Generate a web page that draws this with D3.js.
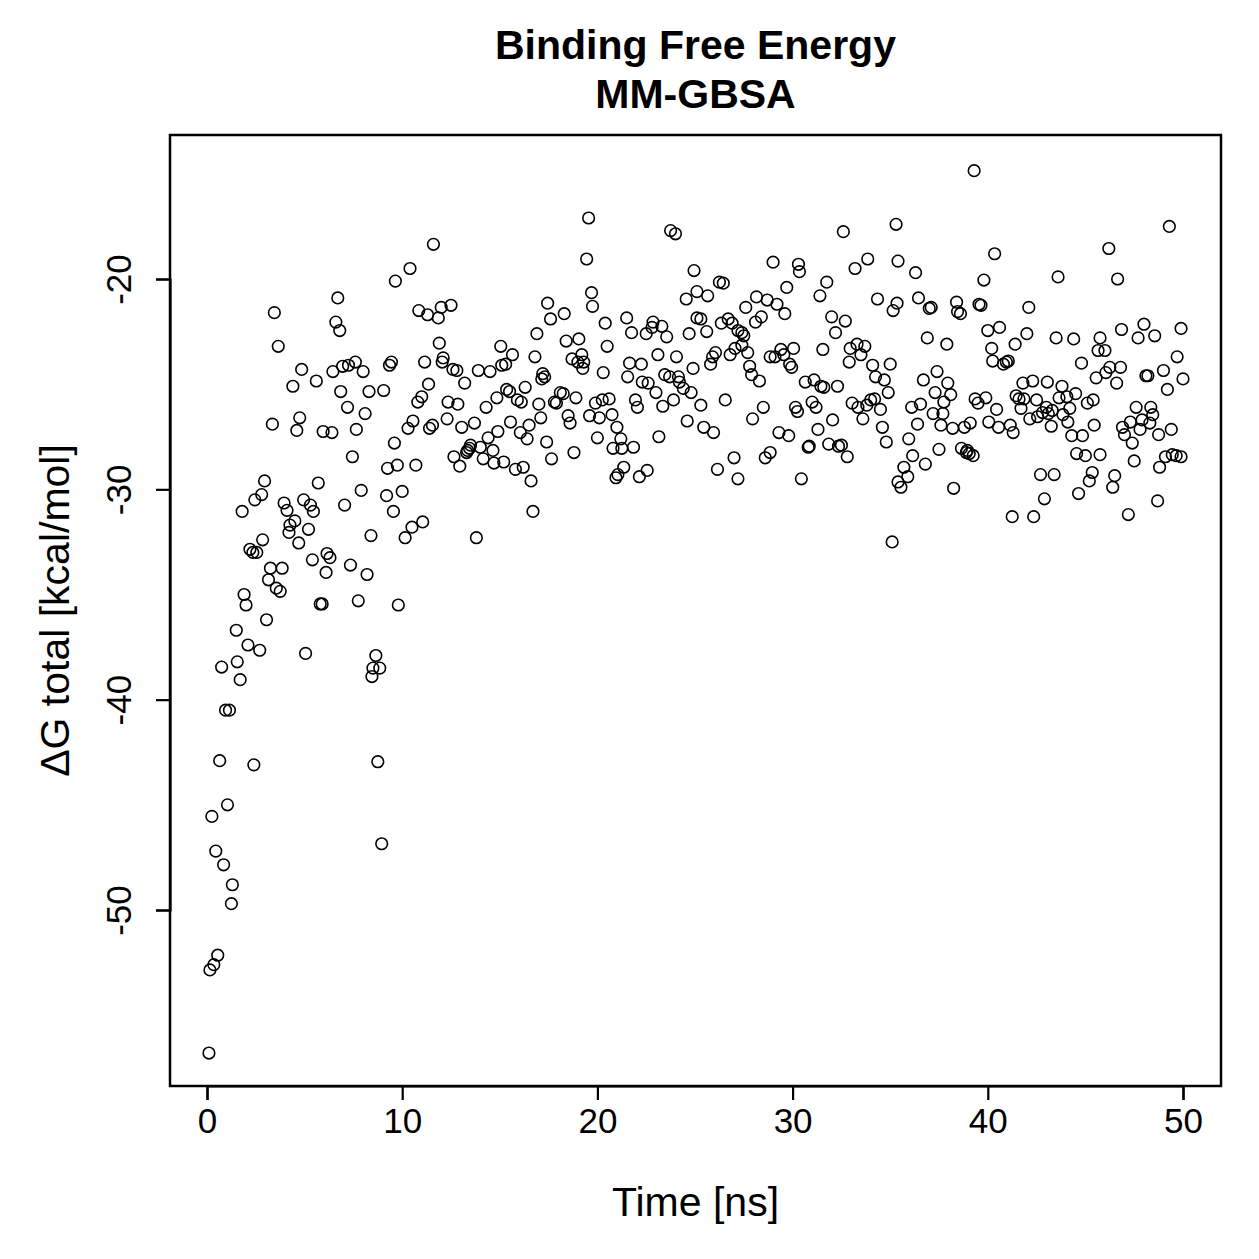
<!DOCTYPE html>
<html><head><meta charset="utf-8">
<script src="https://cdn.jsdelivr.net/npm/d3@7"></script>
<style>body{margin:0;background:#fff}svg{display:block}</style>
</head><body>
<script>
const titleLines = ["Binding Free Energy", "MM-GBSA"];
const xLabel = "Time [ns]";
const yLabel = "\u0394G total [kcal/mol]";
const xTicks = [0, 10, 20, 30, 40, 50];
const yTicks = [-20, -30, -40, -50];

// [time (ns), ΔG total (kcal/mol)]
const block00 = [[0.1,-56.8],[0.15,-52.85],[0.25,-45.55],[0.35,-52.6],[0.45,-47.2],[0.55,-52.15],[0.65,-42.9],[0.75,-38.45],[0.85,-47.85],[0.95,-40.5],[1.05,-45.0],[1.15,-40.5],[1.25,-49.7],[1.3,-48.8],[1.5,-36.7],[1.55,-38.2],[1.7,-39.05],[1.8,-31.05],[1.9,-35.0],[2.0,-35.5],[2.1,-37.4],[2.2,-32.85],[2.35,-33.0],[2.4,-43.1],[2.45,-30.5],[2.55,-33.0],[2.7,-37.65],[2.8,-30.25],[2.85,-32.4],[2.95,-29.6],[3.05,-36.2],[3.15,-34.3],[3.25,-33.75],[3.35,-26.9],[3.45,-21.6],[3.55,-34.7],[3.65,-23.2],[3.75,-34.85],[3.85,-33.75],[3.95,-30.65],[4.1,-31.0],[4.2,-32.05],[4.25,-31.7],[4.4,-25.1],[4.5,-31.5],[4.6,-27.2],[4.7,-32.55],[4.75,-26.6],[4.85,-24.3],[4.95,-30.5],[5.05,-37.8]];
const block05 = [[5.2,-31.9],[5.3,-30.75],[5.4,-33.35],[5.45,-31.05],[5.6,-24.85],[5.7,-29.7],[5.8,-35.45],[5.9,-35.45],[5.95,-27.25],[6.1,-33.95],[6.15,-33.05],[6.3,-33.25],[6.4,-27.3],[6.45,-24.4],[6.6,-22.05],[6.7,-20.9],[6.8,-22.45],[6.85,-25.35],[6.95,-24.15],[7.05,-30.75],[7.2,-26.1],[7.25,-24.1],[7.35,-33.6],[7.45,-28.45],[7.6,-23.95],[7.65,-27.15],[7.75,-35.3],[7.9,-30.05],[8.0,-24.4],[8.1,-26.4],[8.2,-34.05],[8.3,-25.35],[8.4,-32.2],[8.45,-38.9],[8.5,-38.5],[8.65,-37.9],[8.75,-42.95],[8.85,-38.5],[8.95,-46.85],[9.05,-25.3],[9.2,-30.3],[9.25,-29.0],[9.35,-24.1],[9.45,-23.95],[9.55,-31.05],[9.6,-27.8],[9.65,-20.1],[9.75,-28.85],[9.8,-35.5]];
const block10 = [[10.0,-30.1],[10.15,-32.3],[10.3,-27.1],[10.4,-19.5],[10.5,-31.8],[10.55,-26.75],[10.7,-28.85],[10.8,-25.85],[10.85,-21.5],[11.0,-25.6],[11.05,-31.55],[11.15,-23.95],[11.3,-21.7],[11.35,-25.0],[11.4,-27.1],[11.55,-26.95],[11.6,-18.35],[11.85,-21.85],[11.9,-23.05],[12.0,-21.35],[12.05,-23.95],[12.1,-23.75],[12.3,-26.65],[12.35,-25.85],[12.5,-21.25],[12.6,-24.3],[12.65,-28.45],[12.8,-24.35],[12.85,-25.95],[12.95,-28.9],[13.05,-27.05],[13.2,-24.95],[13.3,-28.25],[13.35,-28.15],[13.45,-28.05],[13.5,-27.9],[13.7,-26.85],[13.8,-32.3],[13.9,-24.35],[14.0,-28.0],[14.15,-28.55],[14.3,-26.1],[14.4,-27.55],[14.5,-24.4],[14.65,-28.15],[14.7,-28.75],[14.85,-25.65],[14.9,-27.25],[15.05,-23.2],[15.1,-24.1]];
const block15 = [[15.2,-28.7],[15.3,-24.05],[15.35,-25.25],[15.5,-25.35],[15.55,-26.8],[15.65,-23.6],[15.8,-29.05],[15.9,-25.75],[16.05,-27.3],[16.1,-25.85],[16.2,-28.95],[16.3,-25.15],[16.4,-27.6],[16.5,-26.95],[16.6,-29.6],[16.7,-31.05],[16.8,-23.7],[16.9,-22.6],[17.0,-25.95],[17.1,-26.6],[17.15,-24.75],[17.2,-24.5],[17.3,-24.65],[17.4,-27.75],[17.45,-21.15],[17.6,-21.9],[17.65,-28.55],[17.8,-25.85],[17.9,-25.9],[18.1,-25.4],[18.25,-25.45],[18.3,-21.65],[18.4,-22.95],[18.5,-26.5],[18.6,-26.85],[18.7,-23.8],[18.8,-28.25],[18.9,-25.65],[19.0,-23.95],[19.05,-22.85],[19.2,-23.6],[19.25,-24.25],[19.3,-23.95],[19.45,-19.05],[19.55,-17.1],[19.6,-26.5],[19.7,-20.65],[19.75,-21.3],[19.9,-25.9],[20.0,-27.55]];
const block20 = [[20.1,-26.6],[20.25,-25.75],[20.3,-24.45],[20.4,-22.1],[20.5,-23.2],[20.6,-25.7],[20.75,-26.45],[20.8,-28.05],[20.95,-29.45],[21.0,-27.05],[21.05,-29.3],[21.2,-27.6],[21.25,-28.05],[21.35,-28.95],[21.5,-21.85],[21.55,-24.65],[21.65,-24.0],[21.75,-22.55],[21.85,-28.0],[21.95,-25.75],[22.05,-26.1],[22.15,-29.4],[22.25,-24.05],[22.3,-24.9],[22.5,-22.6],[22.55,-29.1],[22.6,-24.95],[22.8,-22.3],[22.85,-22.05],[23.0,-25.4],[23.1,-23.6],[23.15,-27.5],[23.3,-22.25],[23.35,-26.05],[23.45,-24.55],[23.55,-22.75],[23.7,-24.65],[23.75,-17.7],[23.9,-25.75],[24.0,-17.85],[24.05,-23.7],[24.15,-24.65],[24.2,-24.9],[24.4,-25.2],[24.55,-20.95],[24.6,-26.75],[24.7,-22.6],[24.8,-25.4],[24.9,-24.25],[24.95,-19.6]];
const block25 = [[25.1,-20.6],[25.1,-21.85],[25.3,-21.9],[25.3,-26.0],[25.45,-27.05],[25.6,-22.5],[25.65,-20.8],[25.8,-24.05],[25.9,-23.7],[25.95,-27.3],[26.05,-23.5],[26.15,-29.05],[26.25,-20.15],[26.35,-22.1],[26.45,-20.2],[26.55,-25.75],[26.7,-21.9],[26.8,-23.6],[26.9,-22.1],[27.0,-28.5],[27.05,-23.3],[27.2,-22.45],[27.2,-29.5],[27.4,-22.55],[27.4,-23.15],[27.5,-22.7],[27.6,-21.35],[27.7,-23.5],[27.8,-24.15],[27.9,-24.55],[27.95,-26.65],[28.1,-22.05],[28.15,-20.85],[28.3,-24.85],[28.4,-21.8],[28.5,-26.1],[28.6,-28.5],[28.7,-21.0],[28.85,-28.25],[28.85,-23.7],[29.0,-19.2],[29.1,-23.7],[29.2,-21.2],[29.3,-27.3],[29.4,-23.35],[29.55,-23.6],[29.6,-21.65],[29.7,-20.4],[29.8,-27.45],[29.85,-24.05],[29.95,-24.2]];
const block30 = [[30.05,-23.3],[30.15,-26.1],[30.25,-26.3],[30.3,-19.3],[30.35,-19.65],[30.45,-29.5],[30.65,-24.9],[30.8,-28.0],[30.85,-27.95],[31.0,-25.85],[31.1,-24.8],[31.2,-26.1],[31.3,-27.15],[31.4,-20.8],[31.45,-25.1],[31.55,-23.35],[31.6,-25.15],[31.75,-20.15],[31.85,-27.85],[32.0,-21.8],[32.05,-26.7],[32.2,-22.55],[32.3,-25.1],[32.35,-27.95],[32.5,-27.9],[32.6,-17.75],[32.7,-22.0],[32.8,-28.45],[32.9,-23.95],[32.95,-23.3],[33.05,-25.9],[33.2,-19.5],[33.3,-23.1],[33.35,-26.1],[33.5,-23.6],[33.6,-26.65],[33.7,-23.2],[33.8,-26.0],[33.85,-19.05],[34.0,-25.75],[34.1,-24.1],[34.2,-25.7],[34.25,-24.65],[34.35,-20.95],[34.5,-26.2],[34.6,-27.05],[34.7,-24.8],[34.8,-27.75],[34.9,-25.4],[35.0,-24.05]];
const block35 = [[35.1,-32.5],[35.15,-21.5],[35.3,-17.4],[35.35,-21.15],[35.4,-19.15],[35.4,-29.65],[35.55,-29.9],[35.7,-28.95],[35.9,-29.4],[35.95,-27.6],[36.1,-26.1],[36.15,-28.4],[36.3,-19.7],[36.4,-26.9],[36.45,-20.9],[36.55,-25.95],[36.7,-24.8],[36.8,-28.8],[36.9,-22.8],[37.0,-21.4],[37.1,-21.35],[37.2,-26.4],[37.3,-25.4],[37.4,-24.4],[37.5,-28.1],[37.6,-26.95],[37.7,-26.4],[37.75,-25.85],[37.9,-23.1],[37.95,-24.95],[38.1,-25.5],[38.2,-27.1],[38.25,-29.95],[38.4,-21.1],[38.45,-21.55],[38.6,-21.65],[38.65,-28.05],[38.8,-27.05],[38.9,-28.25],[38.95,-28.15],[39.05,-28.3],[39.1,-26.85],[39.25,-28.4],[39.3,-14.85],[39.35,-25.7],[39.5,-25.9],[39.55,-21.2],[39.65,-21.25],[39.8,-20.05],[39.9,-25.65]];
const block40 = [[40.0,-22.45],[40.05,-26.8],[40.2,-23.3],[40.25,-23.9],[40.35,-18.8],[40.45,-26.2],[40.55,-27.05],[40.6,-22.3],[40.8,-24.05],[40.95,-23.95],[41.05,-23.9],[41.15,-26.95],[41.25,-31.3],[41.3,-27.3],[41.4,-23.1],[41.45,-25.55],[41.6,-25.7],[41.7,-26.15],[41.8,-24.95],[41.85,-25.7],[42.0,-22.6],[42.1,-21.35],[42.15,-26.65],[42.3,-24.85],[42.35,-31.3],[42.5,-25.75],[42.55,-26.55],[42.7,-29.3],[42.8,-26.35],[42.9,-30.45],[43.0,-26.1],[43.05,-24.9],[43.1,-26.4],[43.25,-27.0],[43.3,-26.25],[43.4,-29.3],[43.5,-22.8],[43.6,-19.9],[43.65,-25.65],[43.8,-25.1],[43.85,-26.45],[44.05,-25.6],[44.1,-26.8],[44.2,-26.15],[44.3,-27.45],[44.4,-22.85],[44.5,-25.45],[44.55,-28.3],[44.65,-30.2],[44.8,-24.0],[44.85,-27.45],[45.0,-28.4]];
const block45 = [[45.1,-25.9],[45.2,-29.6],[45.35,-29.2],[45.4,-25.75],[45.45,-26.95],[45.55,-24.7],[45.65,-23.4],[45.75,-22.8],[45.75,-28.35],[46.0,-23.4],[46.05,-24.45],[46.2,-18.55],[46.25,-24.2],[46.4,-29.9],[46.5,-29.35],[46.6,-24.95],[46.65,-20.0],[46.8,-24.2],[46.85,-22.4],[46.9,-27.05],[47.0,-27.4],[47.2,-31.2],[47.3,-26.8],[47.4,-27.8],[47.5,-28.65],[47.6,-26.1],[47.7,-22.8],[47.8,-27.15],[47.9,-26.7],[48.0,-22.15],[48.1,-24.6],[48.2,-24.6],[48.3,-26.85],[48.35,-26.1],[48.45,-26.45],[48.55,-22.7],[48.7,-30.55],[48.75,-27.4],[48.8,-28.95],[49.0,-24.35],[49.1,-28.45],[49.2,-25.25],[49.3,-17.5],[49.4,-27.15],[49.45,-28.35],[49.65,-28.4],[49.7,-23.7],[49.9,-28.45],[49.9,-22.35],[50.0,-24.75]];

const points = [].concat(block00, block05, block10, block15, block20, block25, block30, block35, block40, block45);

const W = 1259, H = 1259;
const box = {left: 170, right: 1221, top: 135, bottom: 1086};
const font = "'Liberation Sans', Arial, Helvetica, sans-serif";

const x = d3.scaleLinear().domain([0, 50]).range([207, 1183]);
const y = d3.scaleLinear().domain([-20, -50]).range([279, 910]);

const svg = d3.select("body").append("svg").attr("width", W).attr("height", H)
  .style("font-family", font);

svg.append("rect").attr("width", W).attr("height", H).attr("fill", "#fff");

// points
svg.append("g").selectAll("circle").data(points).join("circle")
  .attr("cx", d => x(d[0])).attr("cy", d => y(d[1])).attr("r", 5.8)
  .attr("fill", "none").attr("stroke", "#000").attr("stroke-width", 1.6);

// box
svg.append("rect").attr("x", box.left).attr("y", box.top)
  .attr("width", box.right - box.left).attr("height", box.bottom - box.top)
  .attr("fill", "none").attr("stroke", "#000").attr("stroke-width", 2.5);

// x axis
const xAxis = d3.axisBottom(x).tickValues(xTicks).tickSize(14).tickPadding(8).tickFormat(d3.format("d"));
const gx = svg.append("g").attr("transform", `translate(0,${box.bottom})`).call(xAxis);
gx.select(".domain").attr("stroke-width", 2.2);
gx.selectAll(".tick line").attr("stroke-width", 2.2);
gx.selectAll(".tick text").attr("font-size", 35).attr("font-family", font).attr("fill", "#000").attr("dy", "0.71em");

// y axis
const yAxis = d3.axisLeft(y).tickValues(yTicks).tickSize(14).tickPadding(8).tickFormat(d => String(d));
const gy = svg.append("g").attr("transform", `translate(${box.left},0)`).call(yAxis);
gy.select(".domain").attr("stroke-width", 2.2);
gy.selectAll(".tick line").attr("stroke-width", 2.2);
gy.selectAll(".tick text").attr("font-size", 35).attr("font-family", font).attr("fill", "#000")
  .attr("text-anchor", "middle").attr("x", null).attr("dy", null)
  .attr("transform", "translate(-39,0) rotate(-90)");

// labels
svg.append("text").attr("x", (box.left + box.right) / 2).attr("y", 1216)
  .attr("text-anchor", "middle").attr("font-size", 41).text(xLabel);
svg.append("text").attr("transform", `translate(69,${(box.top + box.bottom) / 2}) rotate(-90)`)
  .attr("text-anchor", "middle").attr("font-size", 41).text(yLabel);

// title
svg.append("g").selectAll("text").data(titleLines).join("text")
  .attr("x", (box.left + box.right) / 2).attr("y", (d, i) => 59 + i * 49)
  .attr("text-anchor", "middle").attr("font-size", 41).attr("font-weight", "bold").text(d => d);
</script>
</body></html>
